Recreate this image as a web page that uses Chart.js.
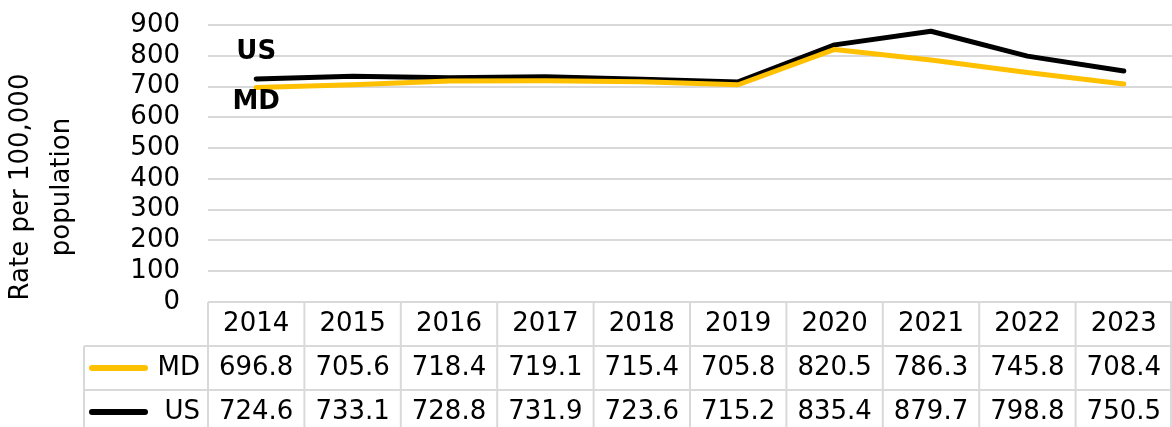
<!DOCTYPE html>
<html>
<head>
<meta charset="utf-8">
<script src="https://cdn.jsdelivr.net/npm/chart.js@4.4.1/dist/chart.umd.min.js"></script>
<style>
    html, body { margin: 0; padding: 0; background: #fff; }
    #wrap { width: 1172px; height: 427px; }
</style>
</head>
<body>
<div id="wrap"><canvas id="rateChart"></canvas></div>
<script>
const years = ['2014', '2015', '2016', '2017', '2018', '2019', '2020', '2021', '2022', '2023'];
const mdValues = [696.8, 705.6, 718.4, 719.1, 715.4, 705.8, 820.5, 786.3, 745.8, 708.4];
const usValues = [724.6, 733.1, 728.8, 731.9, 723.6, 715.2, 835.4, 879.7, 798.8, 750.5];
const yTicks = [0, 100, 200, 300, 400, 500, 600, 700, 800, 900];
const yTitle = ['Rate per 100,000', 'population'];

const FONT = "'DejaVu Sans', sans-serif";
const gridColor = '#d9d9d9';

// draws the data table under the plot, the axis title and the series tags
const tablePlugin = {
    id: 'dataTable',
    afterDraw(chart) {
        const ctx = chart.ctx;
        const area = chart.chartArea;
        const x = chart.scales.x;
        const y = chart.scales.y;
        const rowH = 44;
        const half = (x.getPixelForValue(1) - x.getPixelForValue(0)) / 2;
        const top = area.bottom;
        const keyLeft = 84;
        const bottom = chart.height + 10;

        ctx.save();
        ctx.strokeStyle = gridColor;
        ctx.lineWidth = 2;

        // horizontal lines
        ctx.beginPath();
        ctx.moveTo(area.left, top);
        ctx.lineTo(area.right, top);
        for (let r = 1; r <= 2; r++) {
            ctx.moveTo(keyLeft, top + rowH * r);
            ctx.lineTo(area.right, top + rowH * r);
        }
        // vertical lines
        ctx.moveTo(keyLeft, top + rowH);
        ctx.lineTo(keyLeft, bottom);
        years.forEach((yr, i) => {
            const cx = x.getPixelForValue(i);
            ctx.moveTo(cx - half, top);
            ctx.lineTo(cx - half, bottom);
        });
        ctx.moveTo(area.right - 1, top);
        ctx.lineTo(area.right - 1, bottom);
        ctx.stroke();

        ctx.fillStyle = '#000';
        ctx.font = '26px ' + FONT;
        ctx.textAlign = 'center';
        ctx.textBaseline = 'middle';
        years.forEach((yr, i) => {
            const cx = x.getPixelForValue(i);
            ctx.fillText(yr, cx, top + rowH / 2);
            ctx.fillText(mdValues[i].toFixed(1), cx, top + rowH * 1.5);
            ctx.fillText(usValues[i].toFixed(1), cx, top + rowH * 2.5);
        });

        // legend keys in the table
        const rows = [
            { label: 'MD', color: '#ffc000', cy: top + rowH * 1.5 },
            { label: 'US', color: '#000000', cy: top + rowH * 2.5 }
        ];
        rows.forEach(row => {
            ctx.strokeStyle = row.color;
            ctx.lineWidth = 6;
            ctx.lineCap = 'round';
            ctx.beginPath();
            ctx.moveTo(92, row.cy);
            ctx.lineTo(145, row.cy);
            ctx.stroke();
            ctx.textAlign = 'right';
            ctx.fillText(row.label, area.left - 8, row.cy);
        });

        // series tags at the first point
        ctx.font = 'bold 26px ' + FONT;
        ctx.textAlign = 'center';
        const x0 = x.getPixelForValue(0);
        ctx.fillText('US', x0, y.getPixelForValue(usValues[0]) - 27);
        ctx.fillText('MD', x0, y.getPixelForValue(mdValues[0]) + 15);

        // y axis title
        ctx.font = '26px ' + FONT;
        ctx.translate(41, area.top + 162);
        ctx.rotate(-Math.PI / 2);
        ctx.fillText(yTitle[0], 0, -20);
        ctx.fillText(yTitle[1], 0, 21);
        ctx.restore();
    }
};

new Chart(document.getElementById('rateChart'), {
    type: 'line',
    data: {
        labels: years,
        datasets: [
            {
                label: 'MD',
                data: mdValues,
                borderColor: '#ffc000',
                backgroundColor: '#ffc000',
                borderWidth: 5,
                pointRadius: 0,
                tension: 0,
                borderCapStyle: 'round',
                borderJoinStyle: 'round'
            },
            {
                label: 'US',
                data: usValues,
                borderColor: '#000000',
                backgroundColor: '#000000',
                borderWidth: 5,
                pointRadius: 0,
                tension: 0,
                borderCapStyle: 'round',
                borderJoinStyle: 'round'
            }
        ]
    },
    options: {
        responsive: true,
        maintainAspectRatio: false,
        animation: false,
        layout: { padding: { left: 0, right: 0, top: 25, bottom: 125 } },
        plugins: {
            legend: { display: false },
            tooltip: { enabled: false }
        },
        scales: {
            x: {
                display: false,
                offset: true
            },
            y: {
                min: 0,
                max: 900,
                afterBuildTicks: axis => {
                    axis.ticks = yTicks.map(v => ({ value: v }));
                },
                afterFit: axis => {
                    axis.width = 208;
                    axis.paddingTop = 0;
                    axis.paddingBottom = 0;
                },
                border: { display: false },
                grid: { color: gridColor, lineWidth: 2, drawTicks: false },
                ticks: {
                    color: '#000',
                    padding: 28,
                    autoSkip: false,
                    font: { family: FONT, size: 26 }
                }
            }
        }
    },
    plugins: [tablePlugin]
});
</script>
</body>
</html>
